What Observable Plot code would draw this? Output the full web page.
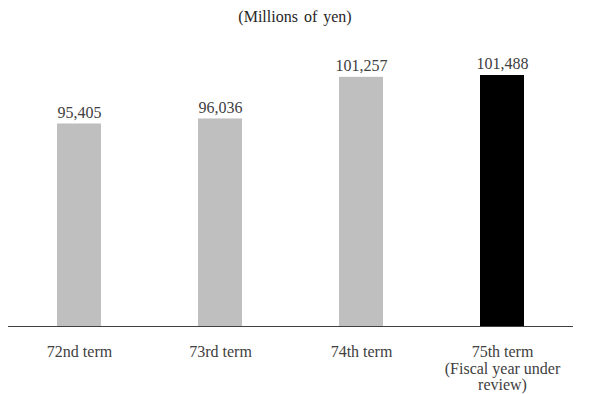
<!DOCTYPE html>
<html>
<head>
<meta charset="utf-8">
<script src="https://cdn.jsdelivr.net/npm/d3@7"></script>
<script src="https://cdn.jsdelivr.net/npm/@observablehq/plot@0.6"></script>
<style>
  body { margin: 0; background: #fff; font-family: 'Liberation Serif', 'Times New Roman', Times, 'DejaVu Serif', serif; }
  #title { height: 34px; line-height: 34px; text-align: center; font-size: 16px; color: #262626; width: 590px; word-spacing: 2px; }
  svg text { font-family: 'Liberation Serif', 'Times New Roman', Times, 'DejaVu Serif', serif !important; }
</style>
</head>
<body>
<div id="title">(Millions of yen)</div>
<div id="chart"></div>
<script>
const terms = ["72nd term", "73rd term", "74th term", "75th term\n(Fiscal year under\nreview)"];
const values = [95405, 96036, 101257, 101488];
const highlight = [false, false, false, true];

const data = terms.map((t, i) => ({term: t, value: values[i], current: highlight[i]}));

const chart = Plot.plot({
  width: 590,
  height: 360,
  marginLeft: 8,
  marginRight: 17,
  marginTop: 13,
  marginBottom: 68,
  style: {fontFamily: "'Liberation Serif', 'Times New Roman', serif", fontSize: "16px", color: "#404040", background: "#fff"},
  x: {domain: terms, paddingInner: 0.69, paddingOuter: 0.345, axis: null},
  y: {domain: [70000, 105000], axis: null},
  marks: [
    Plot.barY(data, {x: "term", y1: 70000, y2: "value", fill: d => d.current ? "#000000" : "#bfbfbf"}),
    Plot.ruleY([70000], {stroke: "#404040", strokeWidth: 1.2}),
    Plot.text(data, {x: "term", y: "value", text: d => d.value.toLocaleString("en-US"), lineAnchor: "bottom", dy: -6, fill: "#404040", fontSize: 16}),
    Plot.text(data, {x: "term", text: "term", frameAnchor: "bottom", lineAnchor: "top", dy: 19, lineHeight: 1.03, fill: "#404040", fontSize: 16})
  ]
});
document.getElementById("chart").appendChild(chart);
</script>
</body>
</html>
